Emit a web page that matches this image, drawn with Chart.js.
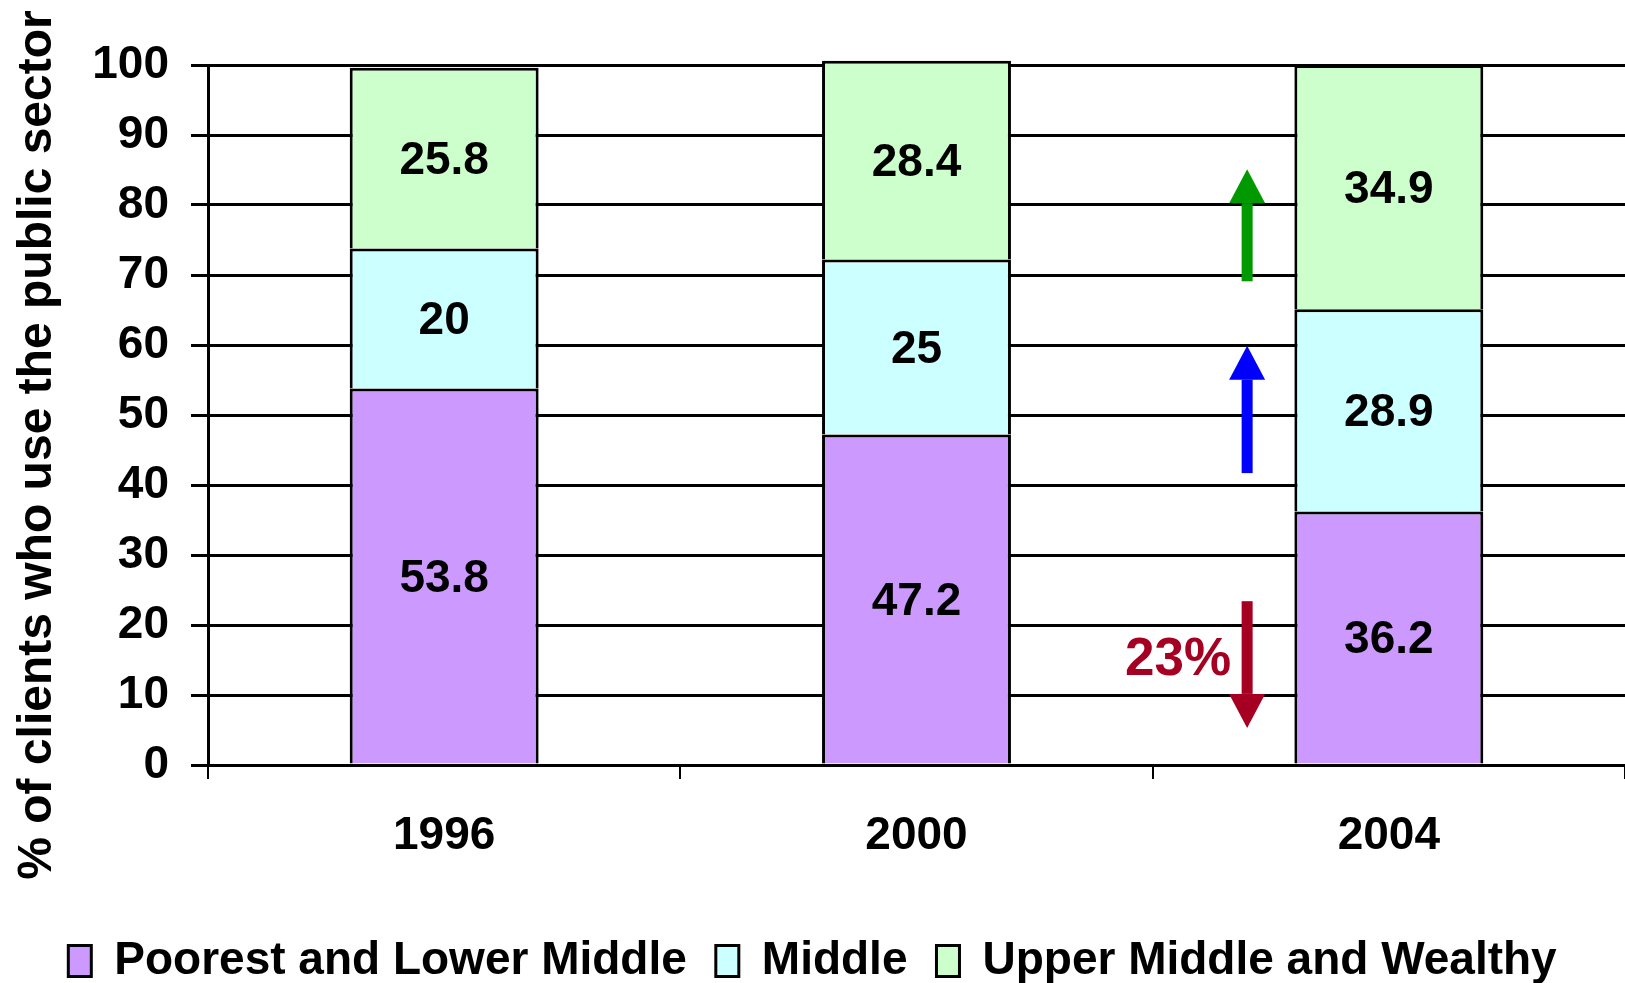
<!DOCTYPE html>
<html>
<head>
<meta charset="utf-8">
<title>Public sector clients by wealth group</title>
<script src="https://cdn.jsdelivr.net/npm/chart.js@4.4.1/dist/chart.umd.min.js"></script>
<style>
  html, body { margin: 0; padding: 0; background: #fff; overflow: hidden; }
  #wrap { position: relative; width: 1625px; height: 994px; }
</style>
</head>
<body>
<div id="wrap"><canvas id="chart"></canvas></div>
<script>
// Survey years
const years = ['1996', '2000', '2004'];

// Share of public-sector clients by wealth group (%)
const poorestLowerMiddle = [53.8, 47.2, 36.2];
const middle = [20, 25, 28.9];
const upperMiddleWealthy = [25.8, 28.4, 34.9];

// Y axis ticks
const yTicks = [0, 10, 20, 30, 40, 50, 60, 70, 80, 90, 100];

// Trend arrows between 2000 and 2004 (category position, value from, value to)
const arrowX = 1.7;
const arrowGreen = [69.1, 85.1];
const arrowBlue = [41.7, 59.9];
const arrowRed = [23.4, 5.3];
const redLabel = '23%';
const redLabelY = 14.9;

const FONT = '"Liberation Sans", Arial, Helvetica, sans-serif';

const segmentLabels = {
  id: 'segmentLabels',
  afterDatasetsDraw(chart) {
    const ctx = chart.ctx;
    ctx.save();
    ctx.font = 'bold 46px ' + FONT;
    ctx.fillStyle = '#000';
    ctx.textAlign = 'center';
    ctx.textBaseline = 'middle';
    chart.data.datasets.forEach((ds, di) => {
      const meta = chart.getDatasetMeta(di);
      meta.data.forEach((bar, i) => {
        const p = bar.getProps(['x', 'y', 'base'], true);
        ctx.fillText(String(ds.data[i]), p.x, (p.y + p.base) / 2 + 3);
      });
    });
    ctx.restore();
  }
};

const trendArrows = {
  id: 'trendArrows',
  afterDatasetsDraw(chart) {
    const ctx = chart.ctx;
    const xs = chart.scales.x, ys = chart.scales.y;
    const cx = xs.getPixelForValue(arrowX);
    const headLen = 34, headHalf = 18, shaftHalf = 5.5;
    function arrow(range, color) {
      const y0 = ys.getPixelForValue(range[0]);
      const y1 = ys.getPixelForValue(range[1]);
      const dir = y1 < y0 ? -1 : 1;
      const base = y1 - dir * headLen;
      ctx.fillStyle = color;
      ctx.fillRect(cx - shaftHalf, Math.min(y0, base), shaftHalf * 2, Math.abs(base - y0));
      ctx.beginPath();
      ctx.moveTo(cx - headHalf, base);
      ctx.lineTo(cx + headHalf, base);
      ctx.lineTo(cx, y1);
      ctx.closePath();
      ctx.fill();
    }
    ctx.save();
    arrow(arrowGreen, '#009900');
    arrow(arrowBlue, '#0000FF');
    arrow(arrowRed, '#A50021');
    ctx.font = 'bold 53px ' + FONT;
    ctx.fillStyle = '#A50021';
    ctx.textAlign = 'right';
    ctx.textBaseline = 'middle';
    ctx.fillText(redLabel, cx - 16, ys.getPixelForValue(redLabelY));
    ctx.restore();
  }
};

const axisTitle = {
  id: 'axisTitle',
  afterDraw(chart) {
    const ctx = chart.ctx;
    ctx.save();
    ctx.translate(38, 445);
    ctx.rotate(-Math.PI / 2);
    ctx.font = 'bold 48px ' + FONT;
    ctx.fillStyle = '#000';
    ctx.textAlign = 'center';
    ctx.textBaseline = 'middle';
    ctx.fillText('% of clients who use the public sector', 0, 0);
    ctx.restore();
  }
};

const barStyle = { borderColor: '#000', borderWidth: 3, borderSkipped: 'start', barPercentage: 0.4, categoryPercentage: 1, clip: false };

new Chart(document.getElementById('chart'), {
  type: 'bar',
  data: {
    labels: years,
    datasets: [
      Object.assign({ label: 'Poorest and Lower Middle', data: poorestLowerMiddle, backgroundColor: '#CC99FF' }, barStyle),
      Object.assign({ label: 'Middle', data: middle, backgroundColor: '#CCFFFF' }, barStyle),
      Object.assign({ label: 'Upper Middle and Wealthy', data: upperMiddleWealthy, backgroundColor: '#CCFFCC' }, barStyle)
    ]
  },
  options: {
    responsive: true,
    maintainAspectRatio: false,
    animation: false,
    layout: { padding: { top: 65, left: 0, right: 0, bottom: 0 } },
    plugins: {
      tooltip: { enabled: false },
      legend: {
        position: 'bottom',
        labels: {
          color: '#000',
          font: { family: FONT, size: 46, weight: 'bold' },
          boxWidth: 23,
          boxHeight: 31,
          padding: 29
        }
      }
    },
    scales: {
      x: {
        stacked: true,
        grid: { display: true, drawOnChartArea: false, drawTicks: true, tickLength: 14, color: '#000', lineWidth: 2, offset: true },
        border: { display: true, color: '#000', width: 3 },
        ticks: { color: '#000', font: { family: FONT, size: 46, weight: 'bold' }, padding: 30, maxRotation: 0 },
        afterFit(scale) { scale.height = 144; }
      },
      y: {
        stacked: true,
        min: 0,
        max: 100,
        afterBuildTicks(scale) { scale.ticks = yTicks.map(v => ({ value: v })); },
        grid: { color: '#000', lineWidth: 3, tickLength: 17, drawTicks: true },
        border: { display: true, color: '#000', width: 3 },
        ticks: { color: '#000', font: { family: FONT, size: 46, weight: 'bold' }, padding: 22 },
        afterFit(scale) { scale.width = 208; }
      }
    }
  },
  plugins: [segmentLabels, trendArrows, axisTitle]
});
</script>
</body>
</html>
